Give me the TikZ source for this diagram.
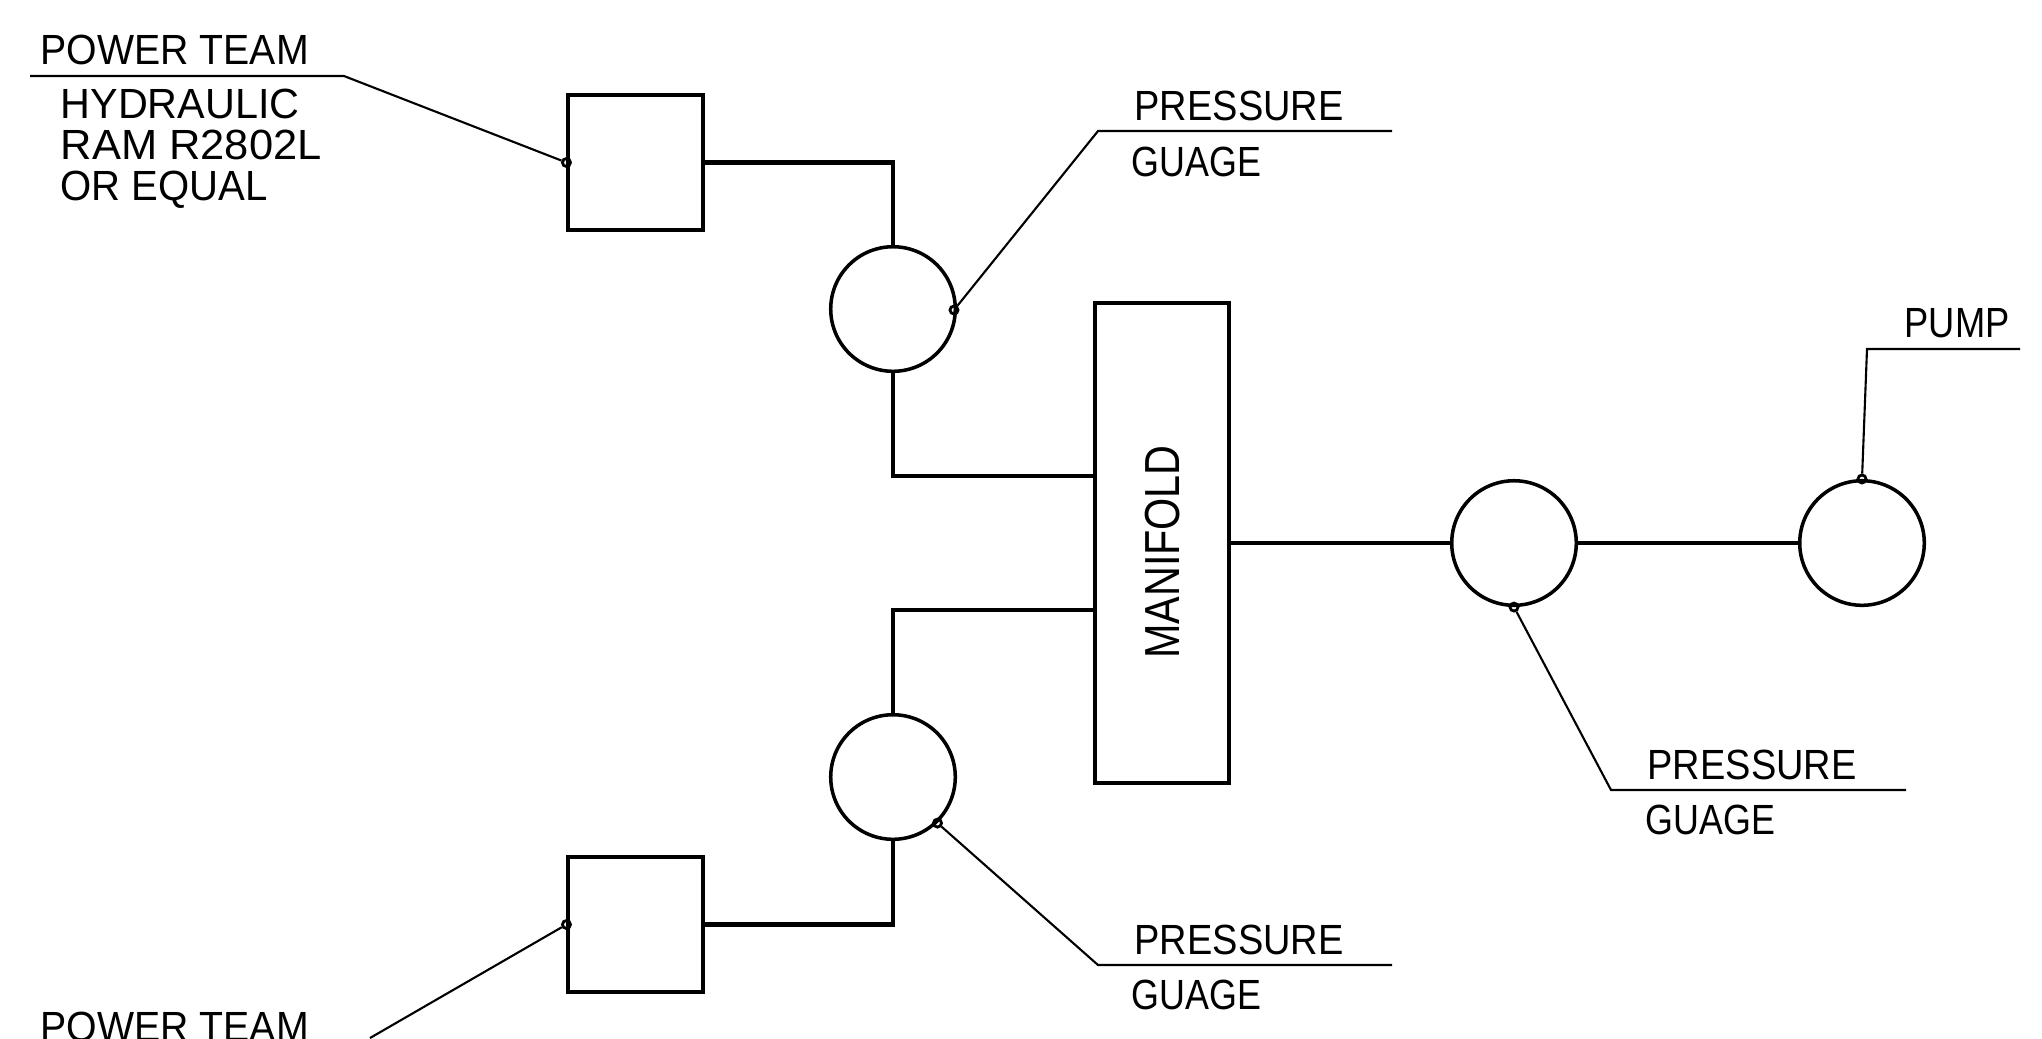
\documentclass[tikz,border=0pt]{standalone}
\usepackage{fontspec}
\setmainfont{Liberation Sans}
\tikzset{
  ram/.style={draw,line width=1pt,minimum size=1.345cm,inner sep=0pt},
  gauge/.style={draw,circle,line width=1pt,minimum size=1.245cm,inner sep=0pt},
  pipe/.style={line width=1.3pt},
  leader/.style={line width=0.6pt},
  tick/.style={draw,circle,line width=0.8pt,inner sep=0pt,minimum size=0.08cm},
  tag/.style={inner sep=0pt,anchor=base west,font=\fontsize{12}{12}\selectfont,xscale=#1},
  tag/.default=1
}
\begin{document}
\begin{tikzpicture}[x=0.01cm,y=-0.01cm]
    \path[use as bounding box,clip](0,0)rectangle(2042,1038);
    \node[ram](r1)at (635.5,162.5){};
    \node[ram](r2)at (635.5,924.5){};
    \node[gauge](g1)at (893,309){};
    \node[gauge](g2)at (893,777){};
    \node[gauge](g3)at (1514,543){};
    \node[gauge](p)at (1862,543){};
    \node[draw,line width=1pt,minimum width=1.335cm,minimum height=4.8cm](m)at (1162,543){};
    \node[inner sep=0pt,anchor=base,font=\fontsize{14}{14}\selectfont,rotate=90,xscale=0.84](mt)at (1179,552){MANIFOLD};
    % pipes
    \draw[pipe](r1.east)-|(g1.north);
    \draw[pipe](g1.south)|-(m.west|-0,476);
    \draw[pipe](m.west|-0,610)-|(g2.north);
    \draw[pipe](g2.south)|-(r2.east);
    \draw[pipe](m.east|-g3.west)--(g3.west);
    \draw[pipe](g3.east)--(p.west);
    % leaders
    \node[tick](t1)at (r1.west){};
    \node[tick](t2)at (r2.west){};
    \node[tick](t3)at (954,310){};
    \node[tick](t4)at (g2.-46){};
    \node[tick](t5)at (g3.south){};
    \node[tick](t6)at (p.north){};
    \coordinate(a1)at (30,76);
    \coordinate(b1)at (344,76);
    \coordinate(b2)at (370,1038);
    \coordinate(b3)at (1098,131);
    \coordinate(a3)at (1392,131);
    \coordinate(b4)at (1098,965);
    \coordinate(a4)at (1392,965);
    \coordinate(b5)at (1611,790);
    \coordinate(a5)at (1906,790);
    \coordinate(b6)at (1867,349);
    \coordinate(a6)at (2020,349);
    \draw[leader](a1)--(b1)--(t1);
    \draw[leader](b2)--(t2);
    \draw[leader](t3)--(b3)--(a3);
    \draw[leader](t4)--(b4)--(a4);
    \draw[leader](t5)--(b5)--(a5);
    \draw[leader](t6)--(b6)--(a6);
    % labels
    \node[tag=0.93](l1)at (40,64){POWER TEAM};
    \node[tag=0.98](l2)at (60,118){HYDRAULIC};
    \node[tag=1.03](l3)at (60,159){RAM R2802L};
    \node[tag=0.95](l4)at (60,200){OR EQUAL};
    \node[tag=0.93](l5)at (40,1041){POWER TEAM};
    \node[tag=0.9](l6)at (1134,120){PRESSURE};
    \node[tag=0.85](l7)at (1131,176){GUAGE};
    \node[tag=0.9](l8)at (1134,954){PRESSURE};
    \node[tag=0.85](l9)at (1131,1009){GUAGE};
    \node[tag=0.9](l10)at (1647,779){PRESSURE};
    \node[tag=0.85](l11)at (1645,834){GUAGE};
    \node[tag=0.86](l12)at (1904,337){PUMP};
\end{tikzpicture}
\end{document}
